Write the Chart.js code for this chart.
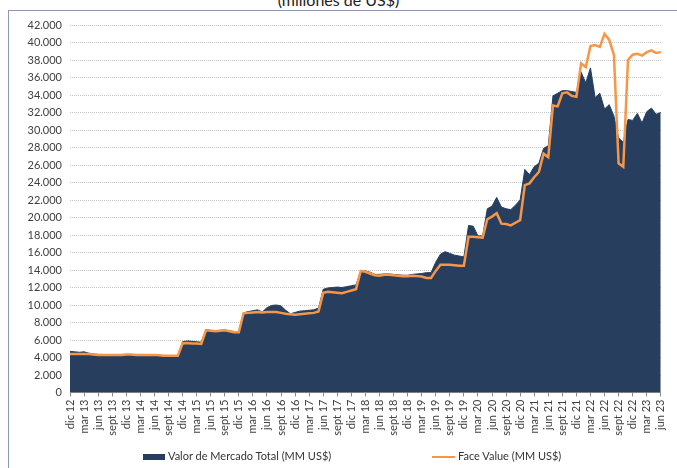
<!DOCTYPE html>
<html lang="es">
<head>
  <meta charset="UTF-8">
  <title>Valor de mercado y face value</title>
  <script src="https://cdn.jsdelivr.net/npm/chart.js"></script>
  <style>
    body { margin: 0; background: #fff; font-family: Lato, "Open Sans", sans-serif; }
    #wrap { position: relative; width: 677px; height: 468px; overflow: hidden; }
    #frame { position: absolute; left: 8px; top: 10px; width: 700px; height: 500px;
             border-left: 1px solid #8a9ab0; border-top: 1px solid #8a9ab0; }
    #title { position: absolute; left: 0; width: 677px; top: -8px; text-align: center;
             font-size: 16px; line-height: 16px; color: #222; }
    #chart { position: absolute; left: 0; top: 0; }
    .leg { position: absolute; top: 449px; font-size: 11px; color: #333; white-space: nowrap; }
    .leg .box { display: inline-block; width: 22px; height: 6px; background: #273e5f; vertical-align: middle; margin-right: 3px; }
    .leg .line { display: inline-block; width: 23px; height: 2px; background: #f79646; vertical-align: middle; margin-right: 3px; }
  </style>
</head>
<body>
<div id="wrap">
  <div id="frame"></div>
  <div id="title">(millones de US$)</div>
  <canvas id="chart" width="677" height="468"></canvas>
  <div class="leg" style="left:143px;"><span class="box"></span>Valor de Mercado Total (MM US$)</div>
  <div class="leg" style="left:432px;"><span class="line"></span>Face Value (MM US$)</div>
</div>

<script>
// meses (dic 12 - jun 23)
const monthNames = ["ene", "feb", "mar", "abr", "may", "jun", "jul", "ago", "sept", "oct", "nov", "dic"];
const labels = [];
for (let i = 0; i < 127; i++) {
  const m = (11 + i) % 12;
  const y = 12 + Math.floor((11 + i) / 12);
  labels.push(monthNames[m] + " " + y);
}

// Valor de Mercado Total (MM US$)
const market = [
  4700, 4650, 4600, 4650, 4500, 4400, 4350, 4350, 4300, 4350, 4300, 4350,
  4350, 4350, 4300, 4300, 4300, 4300, 4300, 4250, 4200, 4200, 4200, 4200,
  5800, 5900, 5850, 5800, 5750, 7200, 7100, 7050, 7100, 7150, 7050, 6950,
  6900, 9100, 9250, 9350, 9450, 9200, 9700, 9950, 10000, 9900, 9400, 9000,
  9150, 9300, 9350, 9400, 9450, 9650, 11800, 11950, 12000, 12050, 12000, 12100,
  12200, 12300, 13900, 13900, 13750, 13500, 13500, 13550, 13550, 13500, 13450, 13400,
  13400, 13500, 13550, 13600, 13700, 13700, 14900, 15800, 16100, 15900, 15700, 15600,
  15500, 19100, 19000, 17900, 17900, 21000, 21300, 22300, 21200, 21000, 20900, 21400,
  22000, 25500, 24900, 25800, 26200, 27900, 28200, 33900, 34200, 34500, 34500, 34400,
  34300, 36600, 35400, 37100, 33700, 34200, 32400, 32900, 31600, 29100, 28600, 31200,
  31100, 31900, 30800, 32100, 32500, 31800, 32000
];

// Face Value (MM US$)
const faceValue = [
  4400, 4400, 4400, 4400, 4400, 4350, 4300, 4300, 4300, 4300, 4300, 4300,
  4350, 4350, 4300, 4300, 4300, 4300, 4300, 4250, 4200, 4200, 4200, 4200,
  5600, 5650, 5600, 5600, 5550, 7100, 7050, 7000, 7050, 7100, 7000, 6900,
  6900, 9050, 9100, 9150, 9200, 9150, 9200, 9200, 9200, 9100, 9000, 8950,
  8900, 8950, 9000, 9050, 9100, 9250, 11400, 11500, 11450, 11400, 11350, 11500,
  11650, 11800, 13900, 13800, 13600, 13400, 13350, 13450, 13450, 13400, 13350, 13300,
  13300, 13350, 13300, 13250, 13100, 13100, 13900, 14600, 14600, 14600, 14550, 14500,
  14500, 17800, 17800, 17750, 17700, 19800, 20100, 20500, 19300, 19250, 19100, 19400,
  19700, 23700, 23900, 24600, 25200, 27300, 26900, 32800, 32700, 34200, 34300, 33900,
  33800, 37600, 37200, 39600, 39700, 39500, 41000, 40300, 38600, 26200, 25800, 38000,
  38600, 38700, 38500, 38900, 39100, 38800, 38900
];

const tickFont = { family: "Lato", size: 11 };

new Chart(document.getElementById("chart"), {
  type: "line",
  data: {
    labels: labels,
    datasets: [
      { label: "Valor de Mercado Total (MM US$)", data: market, order: 1,
        fill: "origin", backgroundColor: "#273e5f", borderColor: "#273e5f",
        borderWidth: 1, pointRadius: 0, tension: 0 },
      { label: "Face Value (MM US$)", data: faceValue, order: 0,
        fill: false, borderColor: "#f79646", borderWidth: 2.5,
        pointRadius: 0, tension: 0 }
    ]
  },
  options: {
    responsive: false,
    animation: false,
    layout: { padding: { top: 25, right: 7, left: 0, bottom: 0 } },
    plugins: { legend: { display: false }, tooltip: { enabled: false } },
    scales: {
      x: {
        offset: false,
        afterFit: s => { s.height = 75.5; },
        grid: { drawOnChartArea: false, drawTicks: true, tickLength: 4,
                color: c => c.index % 3 === 0 ? "#8a8a8a" : "rgba(0,0,0,0)" },
        border: { display: true, color: "#8a8a8a", width: 1 },
        ticks: {
          autoSkip: false, maxRotation: 90, minRotation: 90, padding: 3,
          color: "#404040", font: tickFont,
          callback: (v, i) => i % 3 === 0 ? labels[i] : ""
        }
      },
      y: {
        min: 0, max: 42000,
        afterFit: s => { s.width = 70; },
        grid: { color: "#c4c4c4", lineWidth: 1, drawTicks: false },
        border: { display: false, dash: [1, 1] },
        ticks: {
          stepSize: 2000, padding: 8, color: "#404040", font: tickFont,
          callback: v => v.toString().replace(/\B(?=(\d{3})+(?!\d))/g, ".")
        }
      }
    }
  }
});
</script>
</body>
</html>
